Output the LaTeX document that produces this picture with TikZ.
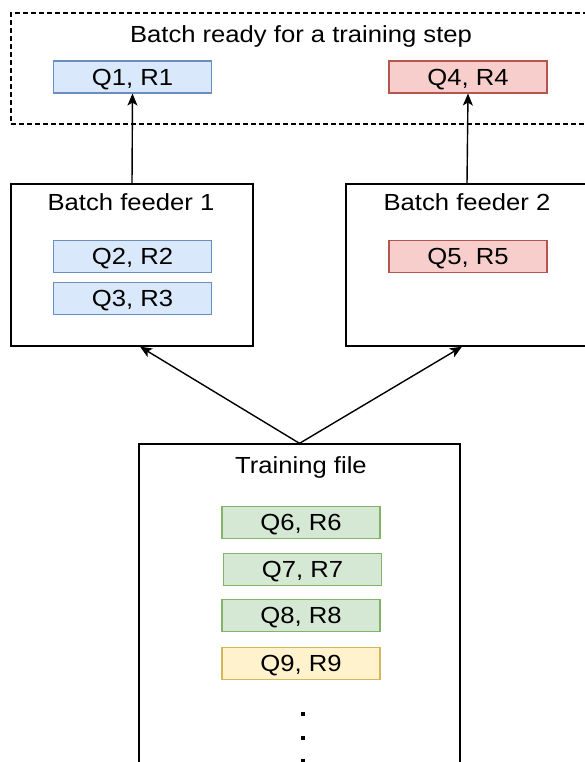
\documentclass[tikz,border=0pt]{standalone}
\usepackage{fontspec}
\setmainfont{Liberation Sans}[FakeStretch=1.1]
\usetikzlibrary{arrows.meta}

\definecolor{blueFill}{HTML}{DAE8FC}
\definecolor{blueLine}{HTML}{6C8EBF}
\definecolor{redFill}{HTML}{F8CECC}
\definecolor{redLine}{HTML}{B85450}
\definecolor{greenFill}{HTML}{D5E8D4}
\definecolor{greenLine}{HTML}{82B366}
\definecolor{yellowFill}{HTML}{FFF2CC}
\definecolor{yellowLine}{HTML}{D6B656}

\tikzset{
  lbl/.style={font=\fontsize{23.3}{27}\selectfont, inner sep=0pt},
  item/.style={lbl, line width=1.1pt, minimum width=158pt, minimum height=32pt,
               text height=16.5pt, text depth=0pt},
  bluebox/.style={item, fill=blueFill, draw=blueLine},
  redbox/.style={item, fill=redFill, draw=redLine},
  greenbox/.style={item, fill=greenFill, draw=greenLine},
  yellowbox/.style={item, fill=yellowFill, draw=yellowLine},
  frame/.style={draw, line width=1.3pt, inner sep=0pt},
  link/.style={line width=1.4pt, -{Stealth[length=12pt,width=10pt,inset=3pt]}},
  dotmark/.style={fill=black, inner sep=0pt, minimum size=3.8pt}
}

\begin{document}
\begin{tikzpicture}[x=1pt,y=-1pt]
  \clip (0,0) rectangle (585,762);
  \fill[white] (0,0) rectangle (585,762);

  % outer containers
  \node[frame, dashed, dash pattern=on 5pt off 3pt, minimum width=589pt, minimum height=111pt]
    (ready) at (305.5,68.5) {};
  \node[frame, minimum width=242pt, minimum height=162pt] (f1) at (132,265) {};
  \node[frame, minimum width=242pt, minimum height=162pt] (f2) at (467,265) {};
  \node[frame, minimum width=321pt, minimum height=356pt] (train) at (299.5,622) {};

  % container titles
  \node[lbl, anchor=base] (readyTitle) at (301,43) {Batch ready for a training step};
  \node[lbl, anchor=base] (f1Title) at (131,210) {Batch feeder 1};
  \node[lbl, anchor=base] (f2Title) at (467,210) {Batch feeder 2};
  \node[lbl, anchor=base] (trainTitle) at (301,473) {Training file};

  % records
  \node[bluebox] (q1) at (132.5,77) {Q1, R1};
  \node[redbox]  (q4) at (468,77)   {Q4, R4};
  \node[bluebox] (q2) at (132.5,256.5) {Q2, R2};
  \node[bluebox] (q3) at (132.5,298.5) {Q3, R3};
  \node[redbox]  (q5) at (468,256.5) {Q5, R5};
  \node[greenbox] (q6) at (301,522.5) {Q6, R6};
  \node[greenbox] (q7) at (302.5,569.5) {Q7, R7};
  \node[greenbox] (q8) at (301,615.5) {Q8, R8};
  \node[yellowbox] (q9) at (301,663.5) {Q9, R9};

  % ellipsis
  \node[dotmark] (dot1) at (303,714) {};
  \node[dotmark] (dot2) at (303,738) {};
  \node[dotmark] (dot3) at (303,761) {};

  % flow
  \draw[link] (f1.north) -- (q1.south);
  \draw[link] (f2.north) -- (q4.south);
  \draw[link] (train.north) -- ([xshift=8pt]f1.south);
  \draw[link] (train.north) -- ([xshift=-5pt]f2.south);
\end{tikzpicture}
\end{document}
